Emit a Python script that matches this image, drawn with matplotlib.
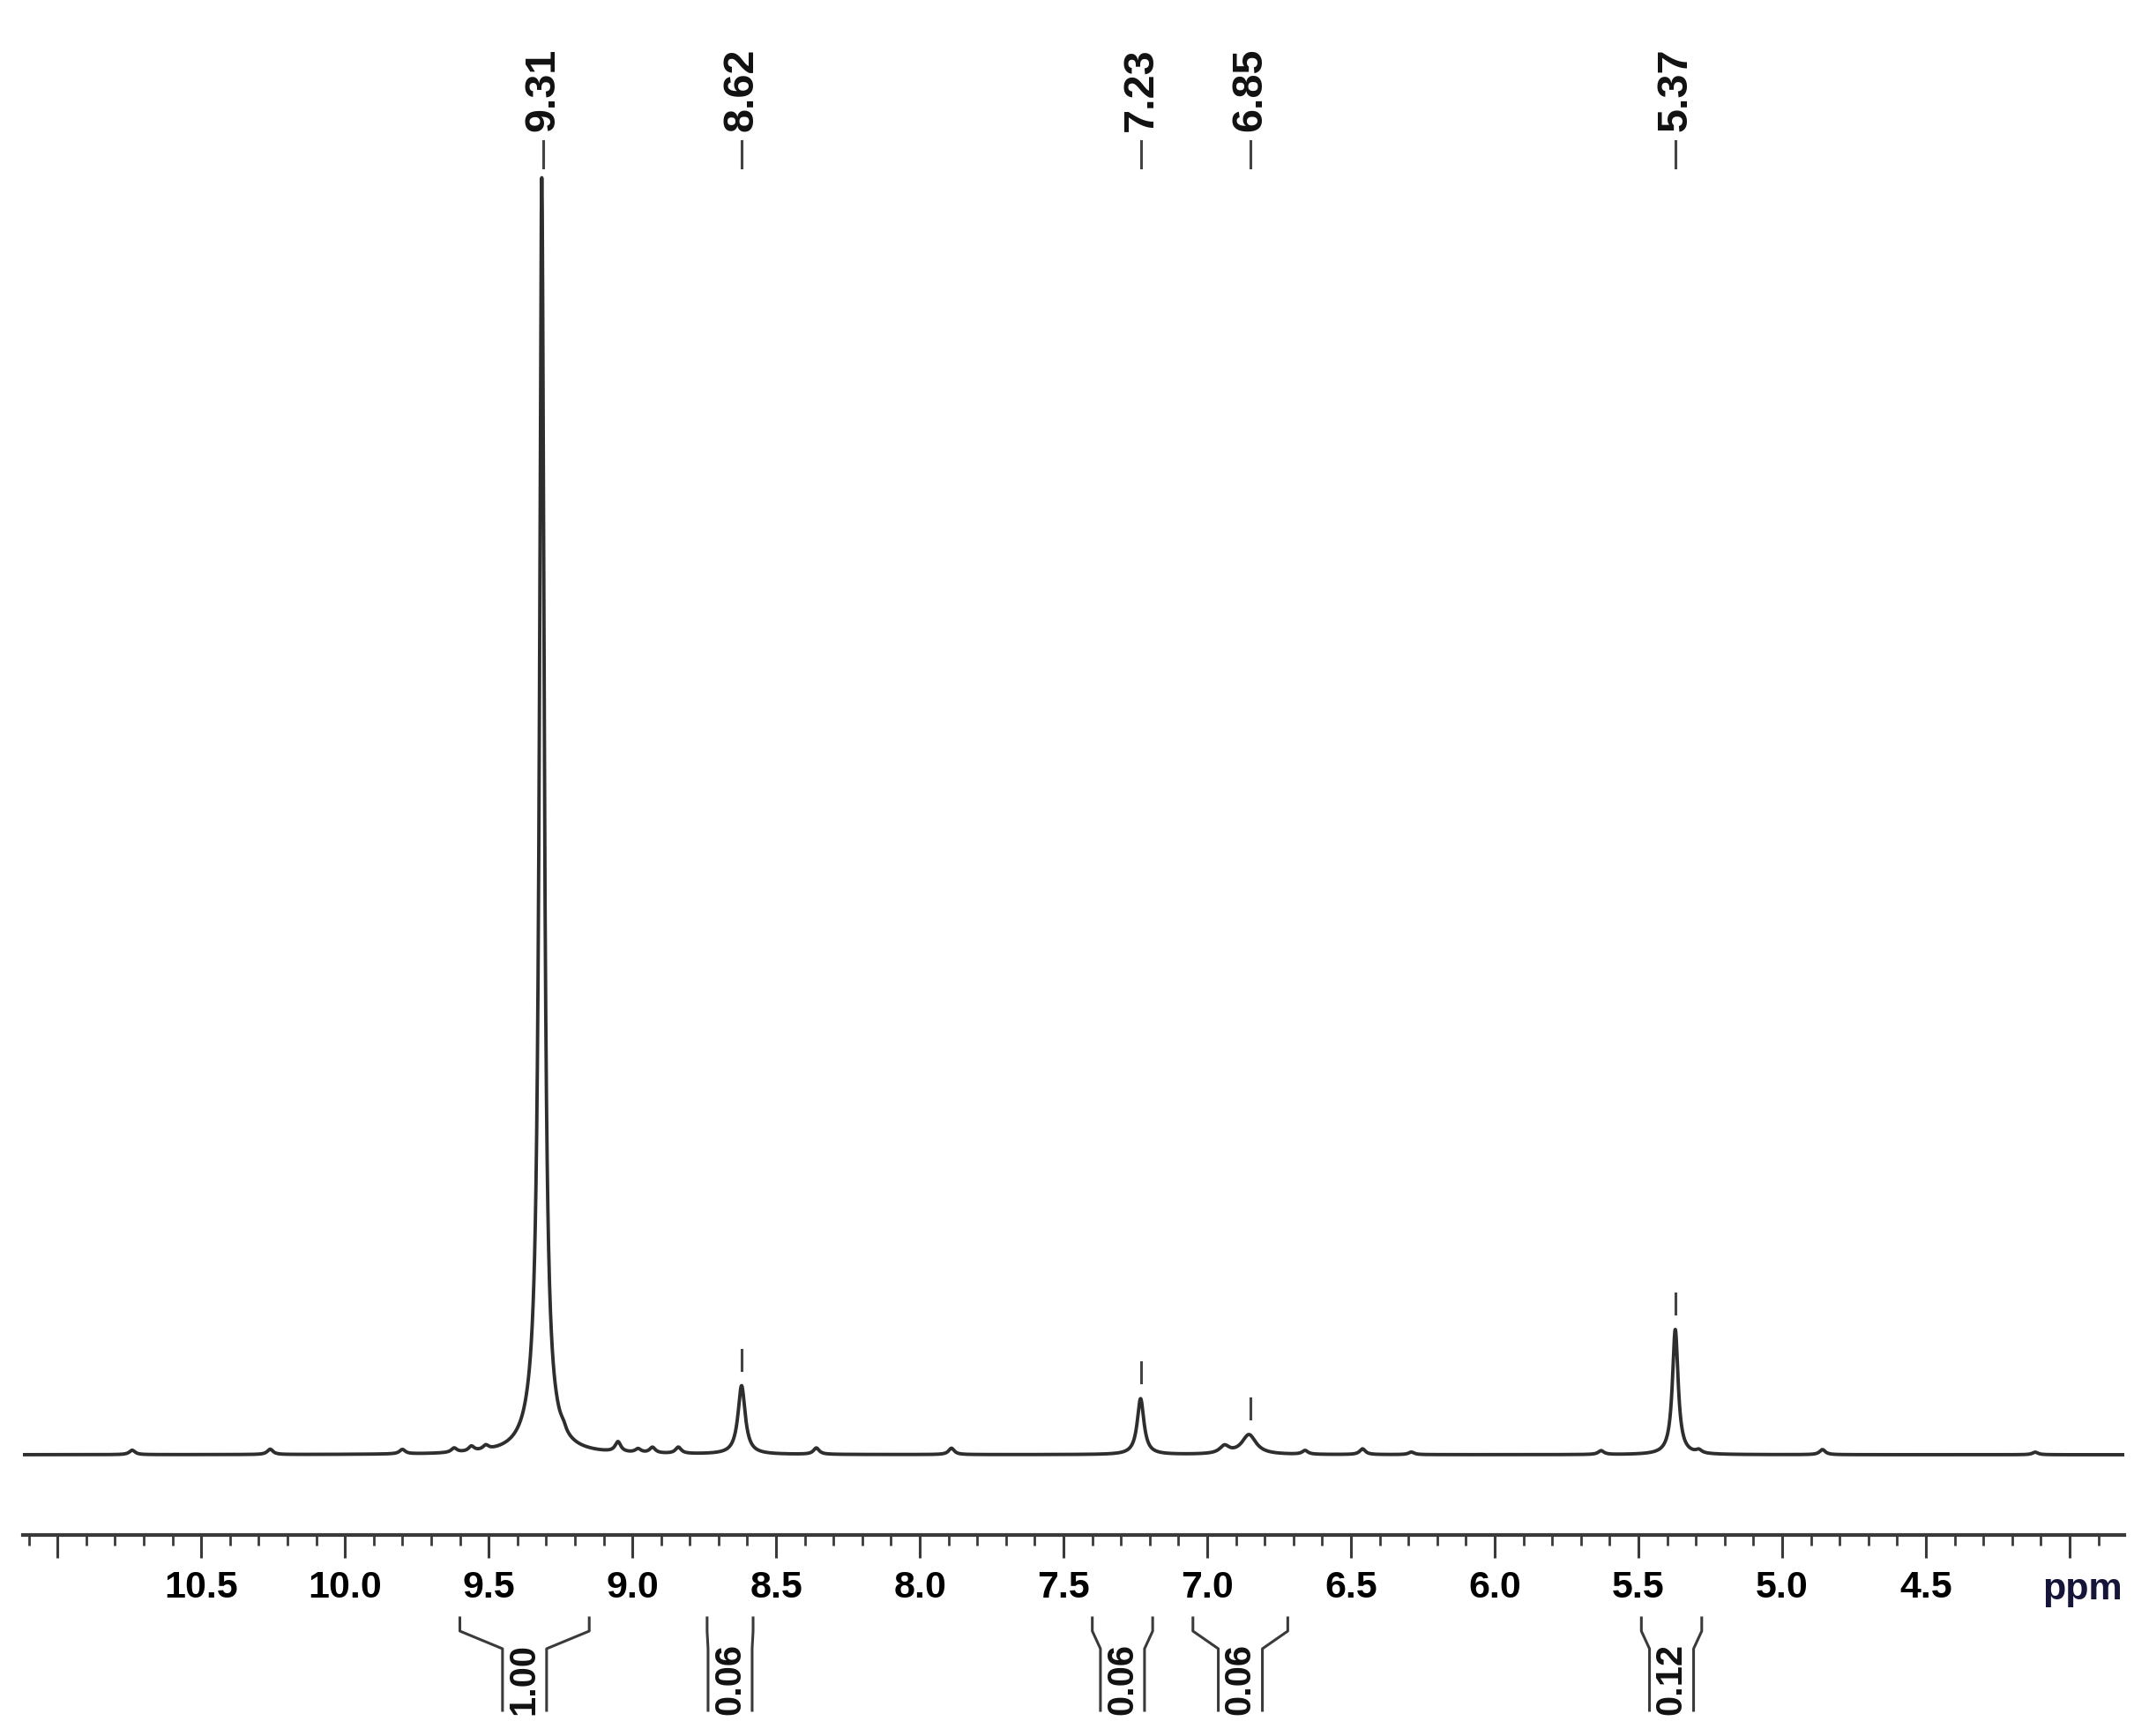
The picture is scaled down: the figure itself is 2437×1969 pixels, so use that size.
import numpy as np
import matplotlib
matplotlib.use('Agg')
import matplotlib.pyplot as plt
from matplotlib.ticker import MultipleLocator

# peaks: centre (ppm), height (main peak = 100), half width (ppm)
peak_ppm = [9.315, 9.32, 9.24, 8.62, 7.232, 6.855, 6.94, 5.372]
peak_height = [96.0, 4.5, 0.35, 5.4, 4.4, 1.55, 0.6, 9.85]
peak_width = [0.0095, 0.04, 0.01, 0.015, 0.014, 0.03, 0.02, 0.012]

# small bumps along the baseline
bump_ppm = [10.74, 10.26, 9.80, 9.62, 9.56, 9.51, 9.05, 8.98, 8.93, 8.84,
            8.36, 7.89, 6.66, 6.46, 6.29, 5.63, 5.29, 4.86, 4.12]
bump_height = [0.35, 0.42, 0.35, 0.35, 0.4, 0.35, 0.8, 0.3, 0.45, 0.5,
               0.5, 0.5, 0.3, 0.45, 0.2, 0.3, 0.25, 0.4, 0.2]
bump_width = [0.012] * len(bump_ppm)

# picked peaks shown on top
label_ppm = [9.31, 8.62, 7.23, 6.85, 5.37]
label_text = ['9.31', '8.62', '7.23', '6.85', '5.37']

# integrals under the axis: (left ppm, right ppm, value)
int_left = [9.60, 8.74, 7.40, 7.05, 5.49]
int_right = [9.15, 8.58, 7.19, 6.72, 5.28]
int_text = ['1.00', '0.06', '0.06', '0.06', '0.12']

tick_values = [11.0, 10.5, 10.0, 9.5, 9.0, 8.5, 8.0, 7.5, 7.0, 6.5, 6.0, 5.5, 5.0, 4.5, 4.0]
tick_labels = ['', '10.5', '10.0', '9.5', '9.0', '8.5', '8.0', '7.5', '7.0', '6.5',
               '6.0', '5.5', '5.0', '4.5', '']

font = 'Liberation Sans'

W, H = 2437, 1969
axis_y = 1741  # pixel row of the ppm axis
fig = plt.figure(figsize=(W / 100, H / 100), dpi=100)
ax = fig.add_axes([26 / W, 1 - axis_y / H, (2409 - 26) / W, axis_y / H])

x = np.linspace(11.12, 3.81, 9000)
y = np.zeros_like(x)
for c, h, g in zip(peak_ppm + bump_ppm, peak_height + bump_height, peak_width + bump_width):
    y += h / (1 + ((x - c) / g) ** 2)

ax.plot(x, y, color='#2e2e2e', lw=2.8, solid_joinstyle='round')

px = 14.42  # pixels per intensity unit
ax.set_xlim(11.12, 3.81)
ax.set_ylim(-91 / px, axis_y / px - 91 / px)


def fy(Y):
    return (axis_y - Y) / axis_y


trans = ax.get_xaxis_transform()

# peak picking labels, lines and dashes
for p, t in zip(label_ppm, label_text):
    ax.text(p, fy(102), t, transform=trans, rotation=90, ha='center', va='center',
            fontsize=35, fontweight='bold', family=font, color='#111111')
    ax.plot([p, p], [fy(160), fy(190)], transform=trans, color='#444444', lw=2.2,
            clip_on=False)
    near = np.abs(x - p) < 0.03
    top = y[near].max()
    ax.plot([p, p], [top + 18 / px, top + 41 / px], color='#444444', lw=2.2)

# integral brackets
s = 25 / 326
for l, r, t in zip(int_left, int_right, int_text):
    c = (l + r) / 2
    ax.plot([l, l, c + s, c + s], [fy(1835), fy(1850), fy(1870), fy(1940)],
            transform=trans, color='#3a3a3a', lw=2.2, clip_on=False)
    ax.plot([r, r, c - s, c - s], [fy(1835), fy(1850), fy(1870), fy(1940)],
            transform=trans, color='#3a3a3a', lw=2.2, clip_on=False)
    ax.text(c, fy(1904), t, transform=trans, rotation=90, ha='center', va='center',
            fontsize=30, fontweight='bold', family=font, color='#111111')

for side in ['left', 'right', 'top']:
    ax.spines[side].set_visible(False)
ax.spines['bottom'].set_color('#3a3a3a')
ax.spines['bottom'].set_linewidth(3)
ax.yaxis.set_visible(False)

ax.set_xticks(tick_values)
ax.set_xticklabels(tick_labels, fontsize=31, fontweight='bold', family=font)
ax.xaxis.set_minor_locator(MultipleLocator(0.1))
ax.tick_params(axis='x', which='major', direction='out', length=19, width=2.2,
               color='#3a3a3a', pad=10)
ax.tick_params(axis='x', which='minor', direction='out', length=8.5, width=2.0,
               color='#3a3a3a')

ax.text(3.955, fy(1803), 'ppm', transform=trans, ha='center', va='center',
        fontsize=31, fontweight='bold', family=font, color='#15153a',
        clip_on=False)

fig.savefig('out.png', dpi=100)
